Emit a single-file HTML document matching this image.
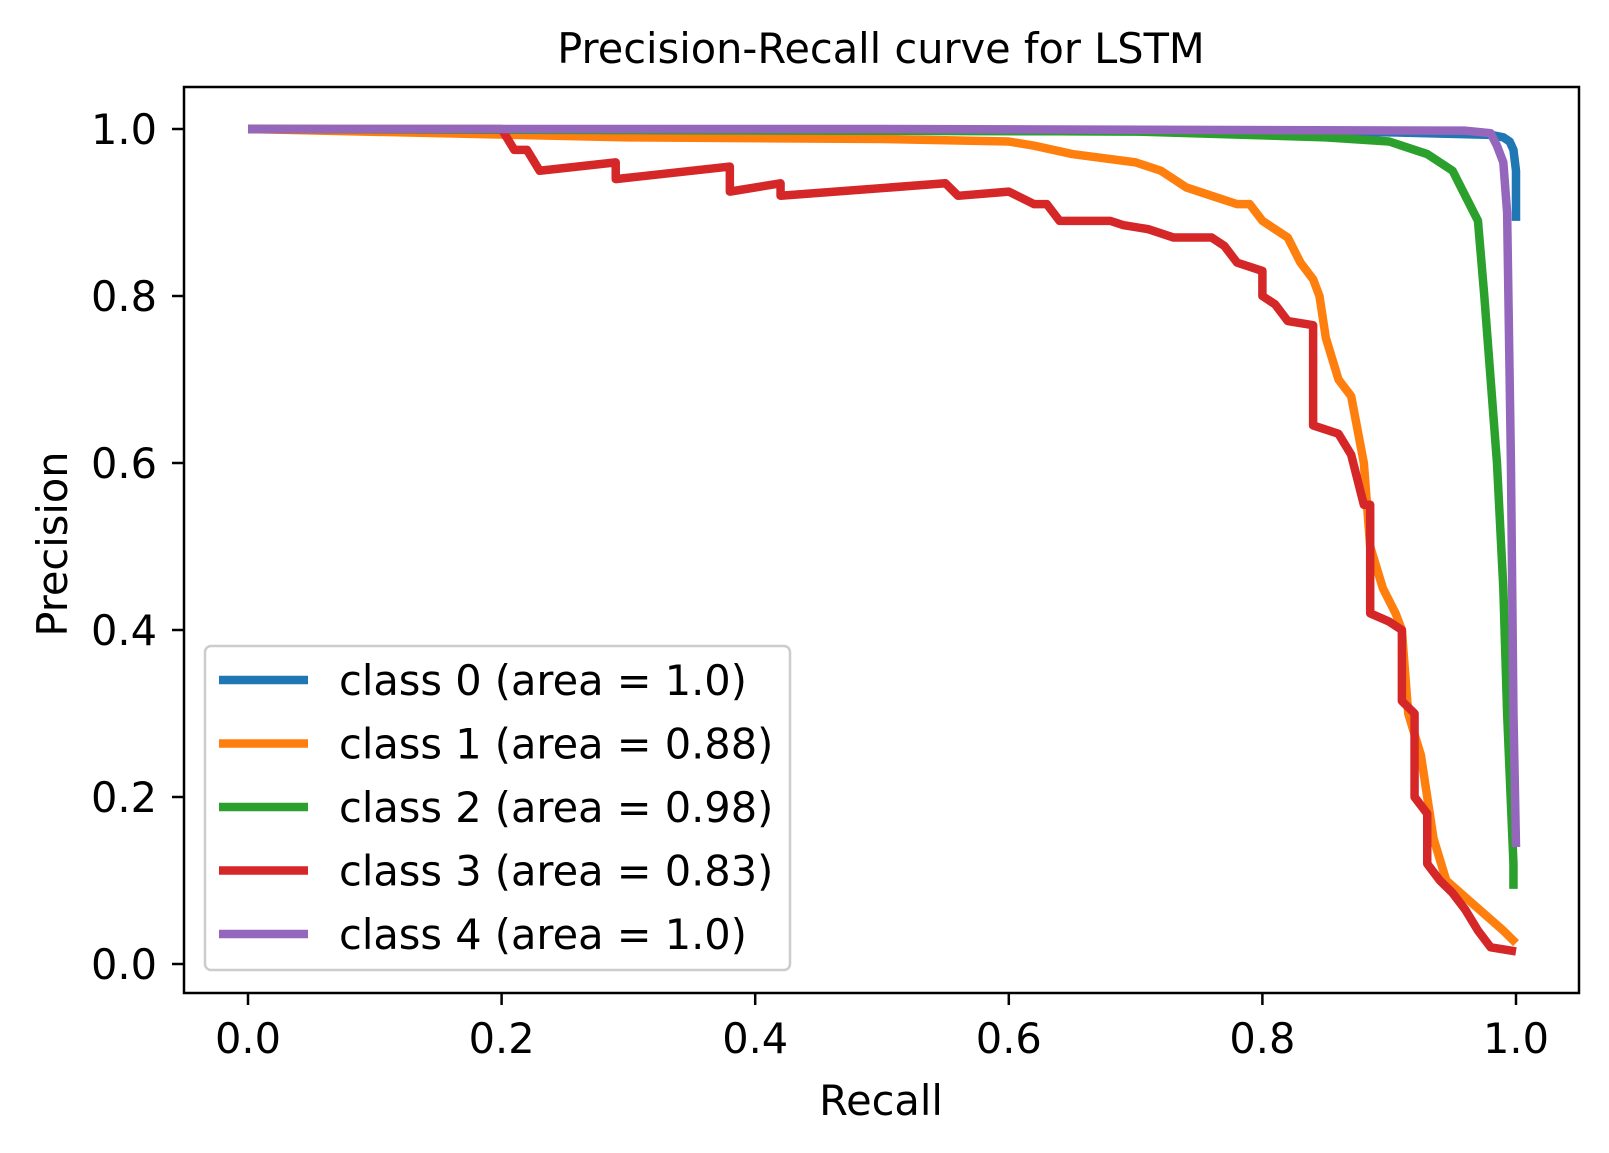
<!DOCTYPE html>
<html><head><meta charset="utf-8"><style>
html,body{margin:0;padding:0;background:#fff;}
svg{display:block;font-family:"DejaVu Sans","Liberation Sans",sans-serif;}
</style></head><body>
<svg id="chart" width="1609" height="1153" viewBox="0 0 1609 1153" xmlns="http://www.w3.org/2000/svg">
<rect width="1609" height="1153" fill="#fff"/>
<text x="881" y="63" font-size="41.5" text-anchor="middle">Precision-Recall curve for LSTM</text>
<g id="series"></g>
<rect x="184" y="87" width="1395" height="906" fill="none" stroke="#000" stroke-width="2.5"/>
<g id="axes"></g>
<text x="881" y="1115" font-size="41.5" text-anchor="middle">Recall</text>
<text transform="translate(67,544) rotate(-90)" font-size="41.5" text-anchor="middle">Precision</text>
<g id="legend"></g>
</svg>
<script>
const xTicks=[0.0,0.2,0.4,0.6,0.8,1.0];
const yTicks=[0.0,0.2,0.4,0.6,0.8,1.0];
const seriesNames=["class 0 (area = 1.0)","class 1 (area = 0.88)","class 2 (area = 0.98)","class 3 (area = 0.83)","class 4 (area = 1.0)"];
const colors=["#1f77b4","#ff7f0e","#2ca02c","#d62728","#9467bd"];
const recall0=[0,0.5,0.9,0.98,0.99,0.995,0.998,1.0,1.0];
const prec0=[1,0.998,0.996,0.993,0.99,0.985,0.975,0.95,0.89];
const recall1=[0,0.3,0.5,0.6,0.62,0.65,0.7,0.72,0.74,0.76,0.78,0.79,0.8,0.82,0.83,0.84,0.845,0.85,0.86,0.87,0.875,0.88,0.885,0.895,0.905,0.91,0.915,0.925,0.93,0.935,0.945,0.96,0.975,0.99,1.0];
const prec1=[1,0.99,0.988,0.985,0.98,0.97,0.96,0.95,0.93,0.92,0.91,0.91,0.89,0.87,0.84,0.82,0.8,0.75,0.7,0.68,0.64,0.6,0.5,0.45,0.42,0.4,0.3,0.25,0.2,0.15,0.1,0.08,0.06,0.04,0.025];
const recall2=[0,0.7,0.85,0.9,0.93,0.95,0.96,0.97,0.975,0.98,0.985,0.99,0.993,0.998,0.998];
const prec2=[1,0.997,0.99,0.985,0.97,0.95,0.92,0.89,0.8,0.7,0.6,0.45,0.3,0.12,0.09];
const recall3=[0,0.2,0.21,0.22,0.23,0.29,0.29,0.38,0.38,0.42,0.42,0.55,0.56,0.6,0.62,0.63,0.64,0.68,0.69,0.71,0.73,0.76,0.77,0.78,0.8,0.8,0.81,0.82,0.84,0.84,0.86,0.87,0.88,0.885,0.885,0.9,0.91,0.91,0.92,0.92,0.93,0.93,0.94,0.95,0.96,0.97,0.98,1.0];
const prec3=[1,1,0.975,0.975,0.95,0.96,0.94,0.955,0.925,0.935,0.92,0.935,0.92,0.925,0.91,0.91,0.89,0.89,0.885,0.88,0.87,0.87,0.86,0.84,0.83,0.8,0.79,0.77,0.765,0.645,0.635,0.61,0.55,0.55,0.42,0.41,0.4,0.315,0.3,0.2,0.18,0.12,0.1,0.085,0.065,0.04,0.02,0.015];
const recall4=[0,0.5,0.96,0.98,0.985,0.99,0.993,0.996,0.998,1.0];
const prec4=[1,1,0.998,0.995,0.98,0.96,0.9,0.6,0.3,0.14];
const allR=[recall0,recall1,recall2,recall3,recall4];
const allP=[prec0,prec1,prec2,prec3,prec4];
const NS="http://www.w3.org/2000/svg";
function xs(v){return 248+v*1268;}
function ys(v){return 964-v*835;}
const axes=document.getElementById('axes');
xTicks.forEach(t=>{
  const l=document.createElementNS(NS,'line');
  
  
  l.setAttribute('x1',xs(t));l.setAttribute('x2',xs(t));l.setAttribute('y1',993);l.setAttribute('y2',1005);
  l.setAttribute('stroke','#000');l.setAttribute('stroke-width','2.5');axes.appendChild(l);
  const tx=document.createElementNS(NS,'text');
  
  
  tx.setAttribute('x',xs(t));tx.setAttribute('y',1053);tx.setAttribute('font-size','41.5');tx.setAttribute('text-anchor','middle');
  tx.textContent=t.toFixed(1);axes.appendChild(tx);
});
yTicks.forEach(t=>{
  const l=document.createElementNS(NS,'line');
  
  
  l.setAttribute('x1',172);l.setAttribute('x2',184);l.setAttribute('y1',ys(t));l.setAttribute('y2',ys(t));
  l.setAttribute('stroke','#000');l.setAttribute('stroke-width','2.5');axes.appendChild(l);
  const tx=document.createElementNS(NS,'text');
  
  
  tx.setAttribute('x',157);tx.setAttribute('y',ys(t)+15);tx.setAttribute('font-size','41.5');tx.setAttribute('text-anchor','end');
  tx.textContent=t.toFixed(1);axes.appendChild(tx);
});
const sg=document.getElementById('series');
allR.forEach((r,i)=>{
  const p=document.createElementNS(NS,'polyline');
  
  
  p.setAttribute('points',r.map((v,j)=>xs(v)+','+ys(allP[i][j])).join(' '));
  p.setAttribute('fill','none');p.setAttribute('stroke',colors[i]);p.setAttribute('stroke-width','8.5');
  p.setAttribute('stroke-linejoin','round');
  sg.appendChild(p);
});
const lg=document.getElementById('legend');
const box=document.createElementNS(NS,'rect');


box.setAttribute('x',205);box.setAttribute('y',646);box.setAttribute('width',585);box.setAttribute('height',324);box.setAttribute('rx',6);
box.setAttribute('fill','rgba(255,255,255,0.8)');box.setAttribute('stroke','#ccc');box.setAttribute('stroke-width','2.5');
lg.appendChild(box);
seriesNames.forEach((n,i)=>{
  const y=680+i*63.5;
  const l=document.createElementNS(NS,'line');
  
  
  l.setAttribute('x1',219);l.setAttribute('x2',308);l.setAttribute('y1',y);l.setAttribute('y2',y);
  l.setAttribute('stroke',colors[i]);l.setAttribute('stroke-width','8.5');lg.appendChild(l);
  const t=document.createElementNS(NS,'text');
  
  
  t.setAttribute('x',339);t.setAttribute('y',y+15);t.setAttribute('font-size','41.5');
  t.textContent=n;lg.appendChild(t);
});
</script>
</body></html>
